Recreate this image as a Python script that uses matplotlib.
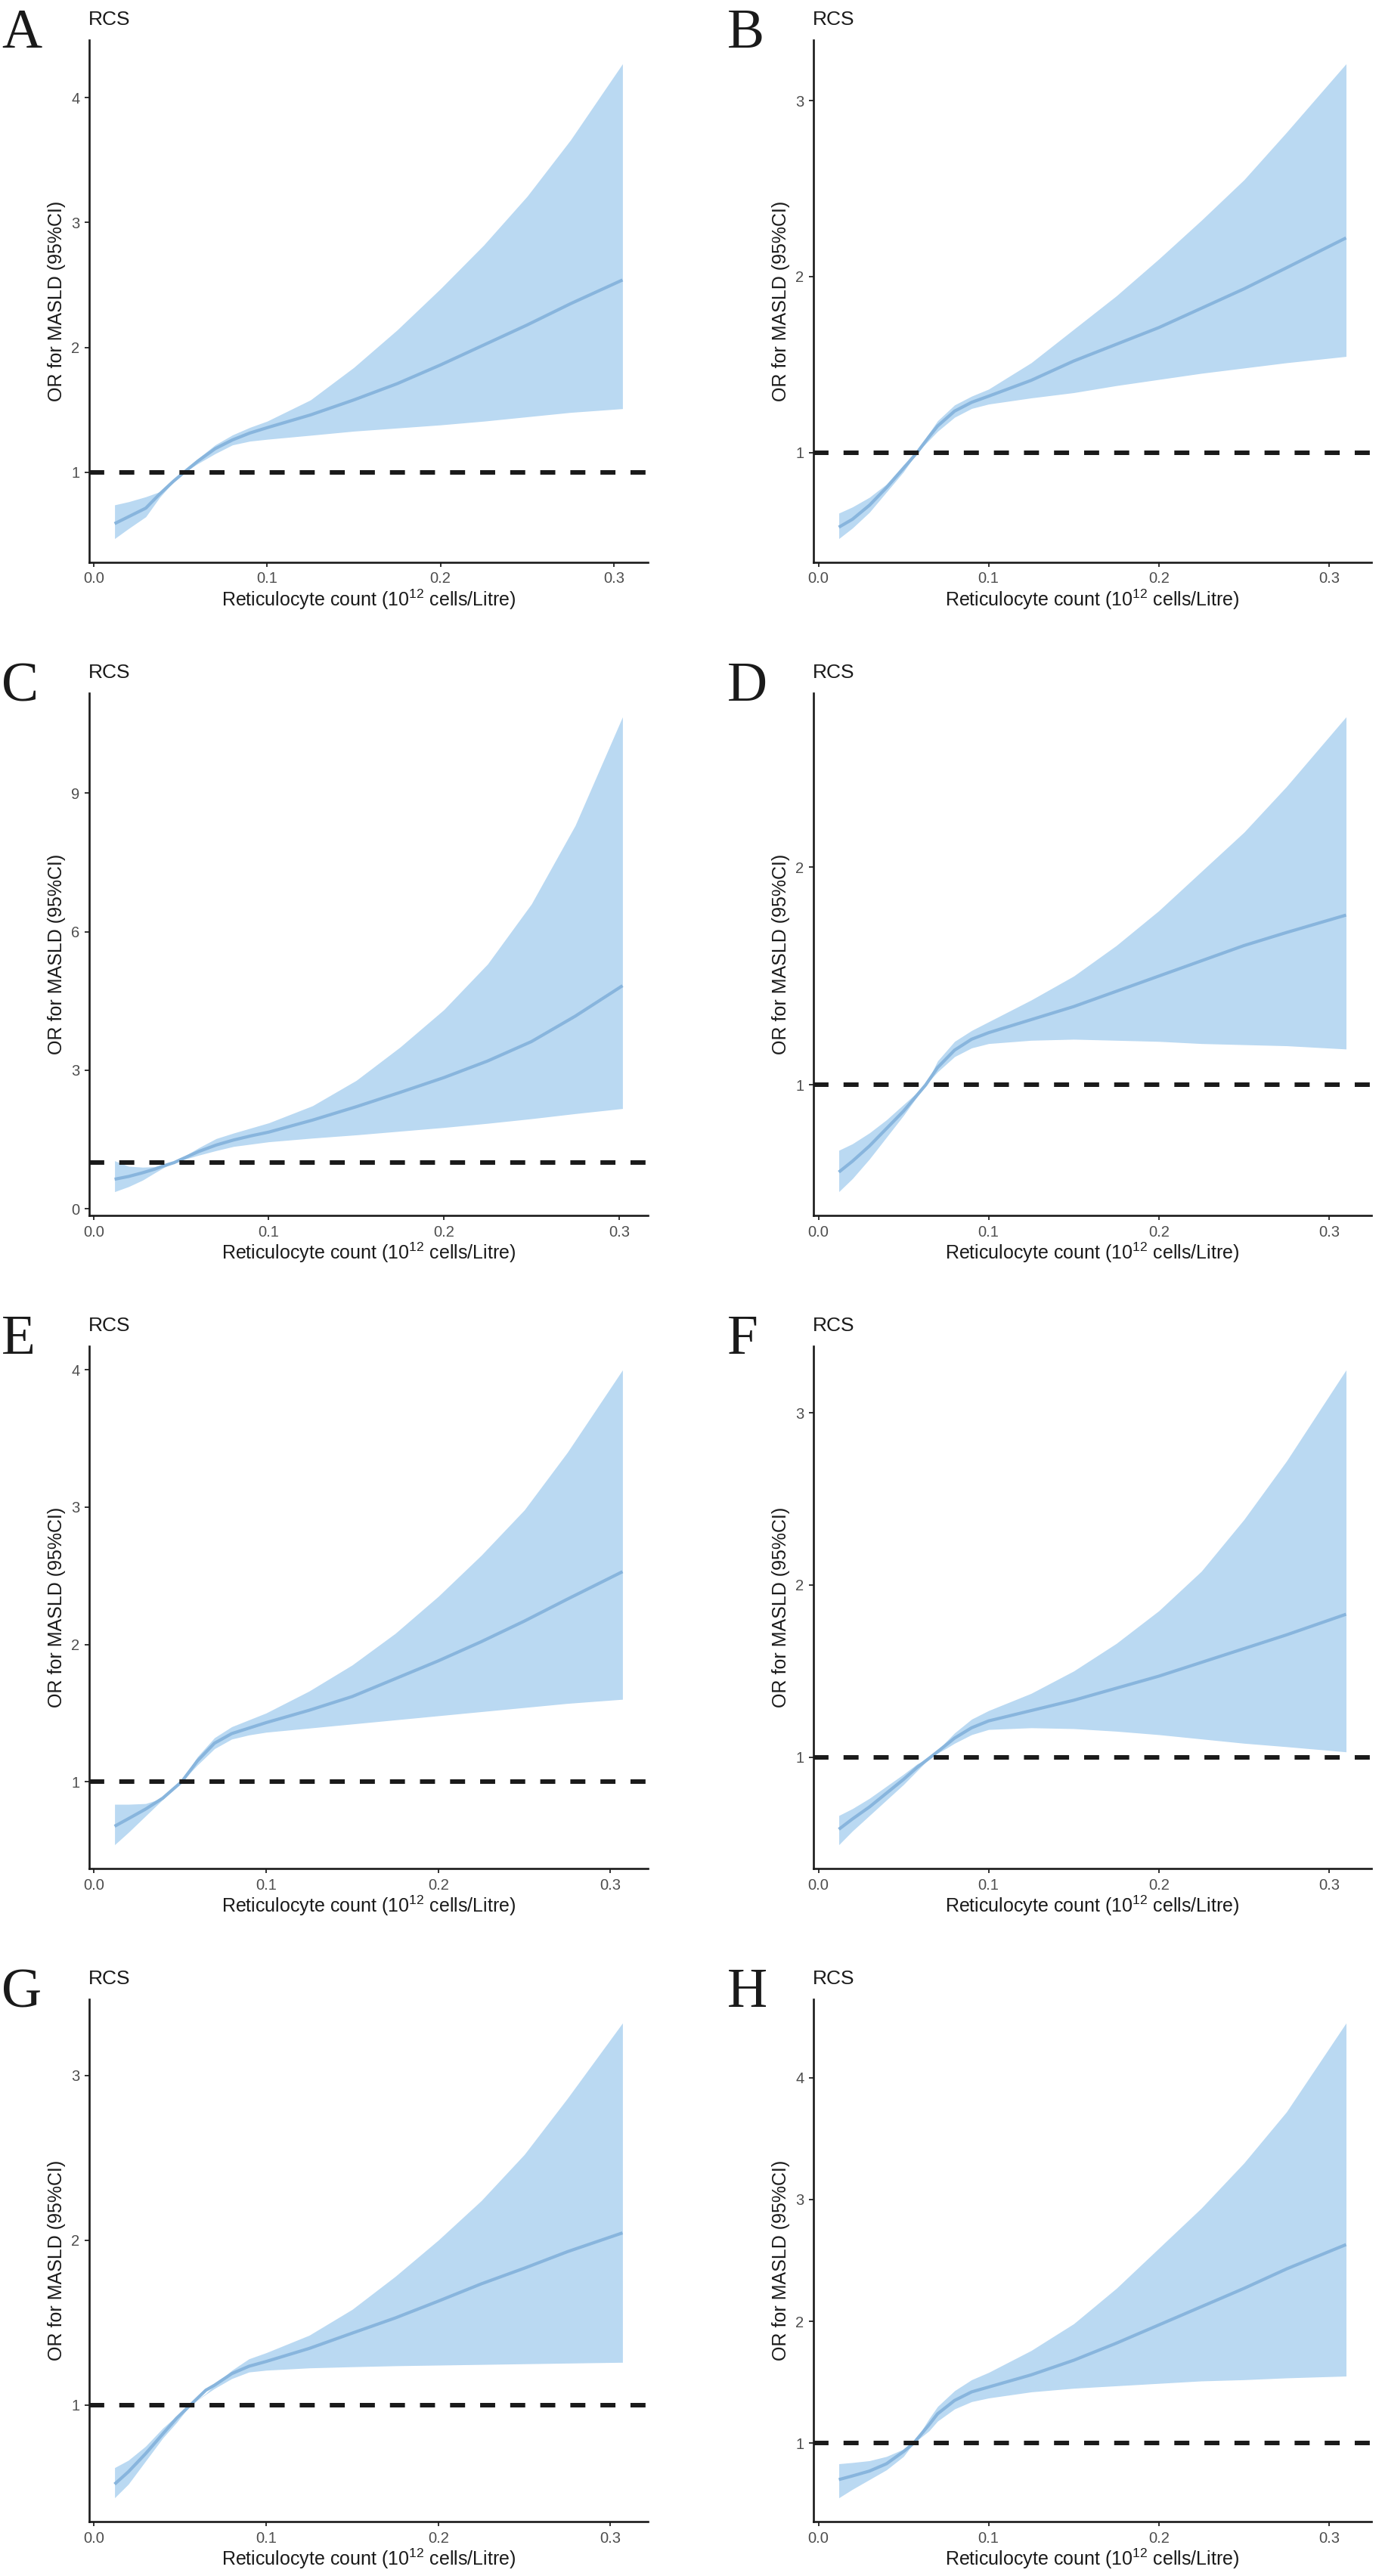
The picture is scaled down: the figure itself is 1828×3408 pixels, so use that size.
import matplotlib
matplotlib.use("Agg")
import matplotlib.pyplot as plt

plt.rcParams['font.family'] = ['Liberation Sans', 'DejaVu Sans']
plt.rcParams['mathtext.fontset'] = 'custom'
plt.rcParams['mathtext.rm'] = 'Liberation Sans'
plt.rcParams['mathtext.it'] = 'Liberation Sans:italic'
plt.rcParams['mathtext.bf'] = 'Liberation Sans:bold'

# ---------------- data ----------------
A_x  = [0.012, 0.02, 0.03, 0.038, 0.046, 0.052, 0.06, 0.07, 0.08, 0.09, 0.10, 0.125, 0.15, 0.175, 0.20, 0.225, 0.25, 0.275, 0.305]
A_or = [0.59, 0.645, 0.714, 0.827, 0.93, 1.0, 1.09, 1.19, 1.26, 1.315, 1.358, 1.46, 1.58, 1.71, 1.86, 2.02, 2.18, 2.35, 2.54]
A_hi = [0.74, 0.765, 0.805, 0.845, 0.935, 1.0, 1.11, 1.22, 1.30, 1.36, 1.41, 1.58, 1.84, 2.14, 2.47, 2.82, 3.21, 3.66, 4.27]
A_lo = [0.47, 0.55, 0.645, 0.80, 0.925, 1.0, 1.07, 1.15, 1.22, 1.25, 1.265, 1.297, 1.33, 1.355, 1.38, 1.41, 1.445, 1.48, 1.51]

B_x  = [0.012, 0.02, 0.03, 0.04, 0.05, 0.058, 0.065, 0.07, 0.08, 0.09, 0.10, 0.125, 0.15, 0.175, 0.2, 0.225, 0.25, 0.275, 0.31]
B_or = [0.575, 0.62, 0.70, 0.80, 0.91, 1.0, 1.09, 1.15, 1.235, 1.285, 1.32, 1.41, 1.52, 1.615, 1.71, 1.82, 1.93, 2.05, 2.22]
B_hi = [0.655, 0.69, 0.745, 0.82, 0.93, 1.0, 1.11, 1.18, 1.27, 1.32, 1.36, 1.51, 1.70, 1.89, 2.10, 2.32, 2.55, 2.82, 3.21]
B_lo = [0.51, 0.57, 0.66, 0.775, 0.89, 1.0, 1.07, 1.12, 1.20, 1.25, 1.275, 1.31, 1.34, 1.38, 1.415, 1.45, 1.48, 1.51, 1.546]

C_x  = [0.012, 0.02, 0.028, 0.035, 0.04, 0.046, 0.05, 0.06, 0.07, 0.08, 0.09, 0.10, 0.125, 0.15, 0.175, 0.2, 0.225, 0.25, 0.275, 0.302]
C_or = [0.64, 0.70, 0.78, 0.86, 0.93, 1.0, 1.07, 1.24, 1.38, 1.49, 1.58, 1.66, 1.92, 2.21, 2.52, 2.84, 3.20, 3.62, 4.17, 4.83]
C_hi = [1.04, 0.92, 0.90, 0.91, 0.95, 1.0, 1.10, 1.32, 1.52, 1.64, 1.75, 1.86, 2.23, 2.78, 3.50, 4.31, 5.30, 6.60, 8.30, 10.65]
C_lo = [0.37, 0.48, 0.62, 0.78, 0.89, 1.0, 1.05, 1.16, 1.26, 1.35, 1.40, 1.45, 1.53, 1.60, 1.68, 1.76, 1.85, 1.95, 2.06, 2.17]

D_x  = [0.012, 0.02, 0.03, 0.04, 0.05, 0.063, 0.07, 0.08, 0.09, 0.10, 0.125, 0.15, 0.175, 0.2, 0.225, 0.25, 0.275, 0.31]
D_or = [0.60, 0.65, 0.72, 0.80, 0.88, 1.0, 1.08, 1.16, 1.21, 1.24, 1.30, 1.36, 1.43, 1.50, 1.57, 1.64, 1.70, 1.78]
D_hi = [0.70, 0.73, 0.78, 0.84, 0.91, 1.0, 1.11, 1.20, 1.25, 1.29, 1.39, 1.50, 1.64, 1.80, 1.98, 2.16, 2.37, 2.69]
D_lo = [0.51, 0.57, 0.66, 0.76, 0.86, 1.0, 1.06, 1.13, 1.17, 1.19, 1.205, 1.21, 1.205, 1.20, 1.19, 1.185, 1.18, 1.165]

E_x  = [0.012, 0.02, 0.03, 0.04, 0.051, 0.06, 0.07, 0.08, 0.09, 0.10, 0.125, 0.15, 0.175, 0.2, 0.225, 0.25, 0.275, 0.307]
E_or = [0.675, 0.73, 0.80, 0.88, 1.0, 1.15, 1.28, 1.35, 1.39, 1.43, 1.52, 1.62, 1.75, 1.88, 2.02, 2.17, 2.33, 2.53]
E_hi = [0.835, 0.835, 0.84, 0.88, 1.0, 1.18, 1.32, 1.40, 1.45, 1.50, 1.66, 1.85, 2.08, 2.35, 2.65, 2.98, 3.40, 4.0]
E_lo = [0.54, 0.63, 0.75, 0.87, 1.0, 1.12, 1.24, 1.31, 1.34, 1.36, 1.39, 1.42, 1.45, 1.48, 1.51, 1.54, 1.57, 1.60]

F_x  = [0.012, 0.02, 0.03, 0.04, 0.05, 0.058, 0.066, 0.075, 0.08, 0.09, 0.10, 0.125, 0.15, 0.175, 0.2, 0.225, 0.25, 0.275, 0.31]
F_or = [0.58, 0.64, 0.71, 0.79, 0.87, 0.94, 1.0, 1.07, 1.11, 1.17, 1.21, 1.27, 1.33, 1.40, 1.47, 1.55, 1.63, 1.71, 1.83]
F_hi = [0.66, 0.70, 0.76, 0.83, 0.90, 0.96, 1.0, 1.09, 1.14, 1.22, 1.27, 1.37, 1.50, 1.66, 1.85, 2.08, 2.38, 2.72, 3.25]
F_lo = [0.49, 0.57, 0.66, 0.75, 0.84, 0.92, 1.0, 1.05, 1.08, 1.13, 1.16, 1.17, 1.165, 1.15, 1.13, 1.105, 1.08, 1.06, 1.03]

G_x  = [0.012, 0.02, 0.03, 0.04, 0.048, 0.056, 0.065, 0.07, 0.08, 0.09, 0.10, 0.125, 0.15, 0.175, 0.2, 0.225, 0.25, 0.275, 0.307]
G_or = [0.52, 0.595, 0.705, 0.825, 0.92, 1.0, 1.09, 1.12, 1.19, 1.235, 1.264, 1.343, 1.436, 1.528, 1.63, 1.735, 1.83, 1.93, 2.044]
G_hi = [0.62, 0.665, 0.75, 0.86, 0.934, 1.0, 1.07, 1.12, 1.21, 1.28, 1.317, 1.423, 1.58, 1.78, 2.0, 2.24, 2.52, 2.86, 3.317]
G_lo = [0.437, 0.52, 0.66, 0.80, 0.894, 1.0, 1.065, 1.10, 1.16, 1.20, 1.211, 1.225, 1.232, 1.238, 1.242, 1.246, 1.25, 1.254, 1.259]

H_x  = [0.012, 0.02, 0.03, 0.04, 0.05, 0.056, 0.065, 0.07, 0.08, 0.09, 0.10, 0.125, 0.15, 0.175, 0.2, 0.225, 0.25, 0.275, 0.31]
H_or = [0.70, 0.73, 0.77, 0.83, 0.93, 1.0, 1.15, 1.24, 1.35, 1.42, 1.46, 1.56, 1.68, 1.82, 1.97, 2.12, 2.27, 2.43, 2.63]
H_hi = [0.83, 0.84, 0.855, 0.89, 0.95, 1.0, 1.20, 1.30, 1.43, 1.52, 1.58, 1.76, 1.98, 2.27, 2.60, 2.93, 3.30, 3.72, 4.45]
H_lo = [0.55, 0.62, 0.70, 0.78, 0.89, 1.0, 1.10, 1.18, 1.28, 1.34, 1.37, 1.42, 1.45, 1.47, 1.49, 1.51, 1.52, 1.535, 1.55]

panel_letters = ['A', 'B', 'C', 'D', 'E', 'F', 'G', 'H']
panel_yticks = [[1, 2, 3, 4], [1, 2, 3], [0, 3, 6, 9], [1, 2],
                [1, 2, 3, 4], [1, 2, 3], [1, 2, 3], [1, 2, 3, 4]]
x_ticks = [0.0, 0.1, 0.2, 0.3]
x_tick_labels = ['0.0', '0.1', '0.2', '0.3']
plot_title = 'RCS'
x_title = r'Reticulocyte count (10$^{12}$ cells/Litre)'
y_title = 'OR for MASLD (95%CI)'
ref_value = 1

panels = [(A_x, A_or, A_lo, A_hi), (B_x, B_or, B_lo, B_hi),
          (C_x, C_or, C_lo, C_hi), (D_x, D_or, D_lo, D_hi),
          (E_x, E_or, E_lo, E_hi), (F_x, F_or, F_lo, F_hi),
          (G_x, G_or, G_lo, G_hi), (H_x, H_or, H_lo, H_hi)]

# ---------------- layout / style ----------------
W, H = 1828, 3408
fig = plt.figure(figsize=(W / 100, H / 100), dpi=100)
fig.patch.set_facecolor('white')

col_left = [118, 1076]
col_right = [857, 1814]
row_pitch = 864
top0, bot0 = 53, 744
letter_x = [2, 962]

band_color = '#BAD9F2'
line_color = '#88B5DD'
tick_col = '#333333'
ticklab_col = '#4D4D4D'

for i, (xs, est, lo, hi) in enumerate(panels):
    r, c = divmod(i, 2)
    left, right = col_left[c], col_right[c]
    top, bot = top0 + r * row_pitch, bot0 + r * row_pitch
    ax = fig.add_axes([left / W, 1 - bot / H, (right - left) / W, (bot - top) / H])
    ax.fill_between(xs, lo, hi, color=band_color, linewidth=0, zorder=1)
    ax.plot(xs, est, color=line_color, lw=3.0, zorder=2,
            solid_capstyle='butt', solid_joinstyle='round')
    ax.axhline(ref_value, color='#1a1a1a', lw=4.3, ls=(0, (3.33, 3.33)), zorder=3)
    ax.margins(x=0.05, y=0.05)
    ax.set_xticks(x_ticks)
    ax.set_xticklabels(x_tick_labels)
    ax.set_yticks(panel_yticks[i])
    ax.set_yticklabels([str(v) for v in panel_yticks[i]])
    for s in ['top', 'right']:
        ax.spines[s].set_visible(False)
    for s in ['left', 'bottom']:
        ax.spines[s].set_linewidth(1.9)
        ax.spines[s].set_color('#1a1a1a')
    ax.tick_params(axis='both', length=4, width=1.4, color=tick_col,
                   labelcolor=ticklab_col, labelsize=14.5, pad=5)
    ax.set_facecolor('white')

    # texts
    fig.text((left - 1) / W, 1 - (33 + r * row_pitch) / H, plot_title,
             ha='left', va='baseline', fontsize=19, color='#1a1a1a')
    fig.text(letter_x[c] / W, 1 - (63 + r * row_pitch) / H, panel_letters[i],
             ha='left', va='baseline', fontsize=53, family='Liberation Serif',
             color='#1a1a1a')
    fig.text((left - 43) / W, 1 - ((top + bot) / 2) / H, y_title, rotation=90,
             ha='center', va='center', fontsize=18, color='#1a1a1a')
    fig.text(((left + right) / 2) / W, 1 - (802 + r * row_pitch) / H, x_title,
             ha='center', va='baseline', fontsize=18, color='#1a1a1a')

fig.savefig('out.png', dpi=100, facecolor='white')
